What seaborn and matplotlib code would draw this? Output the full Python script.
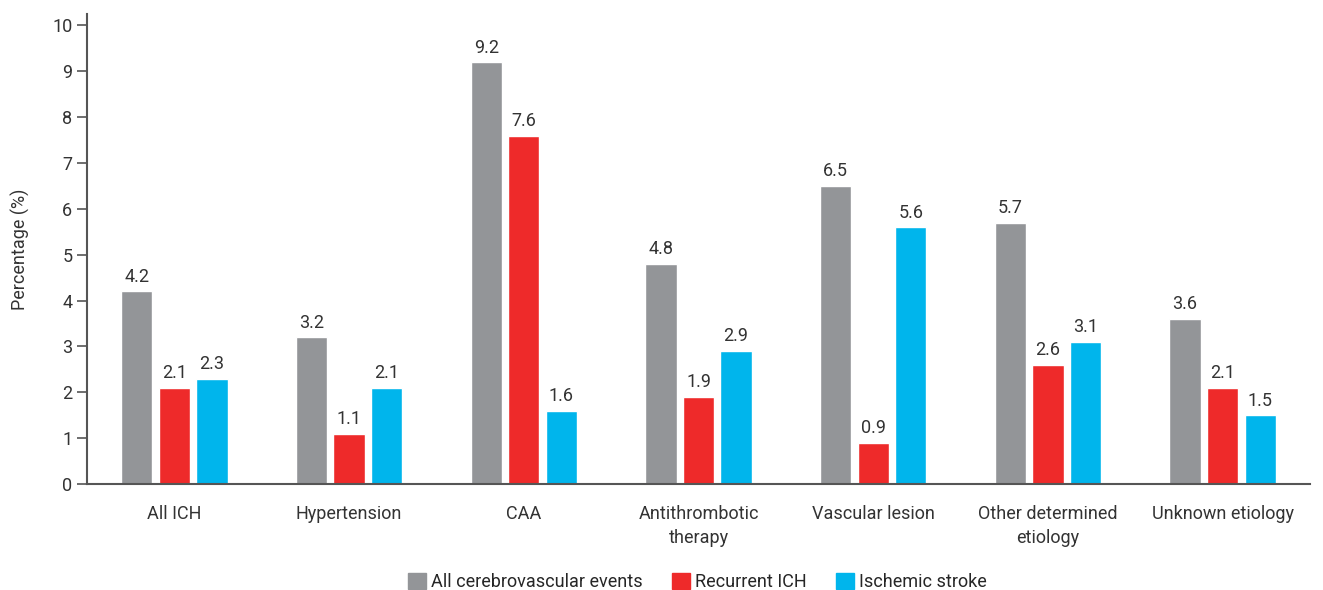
import pandas as pd
import seaborn as sns
from matplotlib import pyplot as plt
from matplotlib.patches import Patch

categories = ["All ICH", "Hypertension", "CAA", "Antithrombotic\ntherapy",
              "Vascular lesion", "Other determined\netiology", "Unknown etiology"]
series = ["All cerebrovascular events", "Recurrent ICH", "Ischemic stroke"]
all_events = [4.2, 3.2, 9.2, 4.8, 6.5, 5.7, 3.6]
recurrent_ich = [2.1, 1.1, 7.6, 1.9, 0.9, 2.6, 2.1]
ischemic = [2.3, 2.1, 1.6, 2.9, 5.6, 3.1, 1.5]
colors = ["#939598", "#EE2A2A", "#00B5EC"]

rows = []
for vals, name in zip([all_events, recurrent_ich, ischemic], series):
    for c, v in zip(categories, vals):
        rows.append({"cat": c, "series": name, "value": v})
df = pd.DataFrame(rows)

sns.set_style("white")
plt.rcParams['font.family'] = ['Roboto', 'DejaVu Sans']

fig = plt.figure(figsize=(13.23, 5.9), dpi=100)
ax = fig.add_axes([87/1323, 1-484/590, 1223/1323, 470/590])

sns.barplot(data=df, x="cat", y="value", hue="series", palette=colors,
            width=0.645, gap=0.17, saturation=1, ax=ax, legend=False)

for cont in ax.containers:
    ax.bar_label(cont, fmt="%.1f", padding=4, fontsize=13, color="#333333")

ax.set_xlim(-0.5, 6.5)
ax.set_ylim(0, 10.25)
ax.set_yticks(range(0, 11))
ax.set_xlabel("")
ax.set_ylabel("Percentage (%)", fontsize=13, color="#333333", labelpad=16)
ax.tick_params(axis="y", length=7, width=1.2, color="#555555", labelsize=13,
               labelcolor="#333333", left=True)
ax.tick_params(axis="x", length=0, labelsize=13, labelcolor="#333333", pad=15)
for lbl in ax.get_xticklabels():
    lbl.set_linespacing(1.45)
for s in ["top", "right"]:
    ax.spines[s].set_visible(False)
for s in ["left", "bottom"]:
    ax.spines[s].set_color("#555555")
    ax.spines[s].set_linewidth(1.5)

handles = [Patch(color=c, label=n) for c, n in zip(colors, series)]
fig.legend(handles=handles, loc="lower center", bbox_to_anchor=(0.527, -0.03),
           ncol=3, frameon=False, fontsize=13, handlelength=1.0, handleheight=1.0,
           handletextpad=0.3, columnspacing=1.6)

fig.savefig("out.png", dpi=100)
